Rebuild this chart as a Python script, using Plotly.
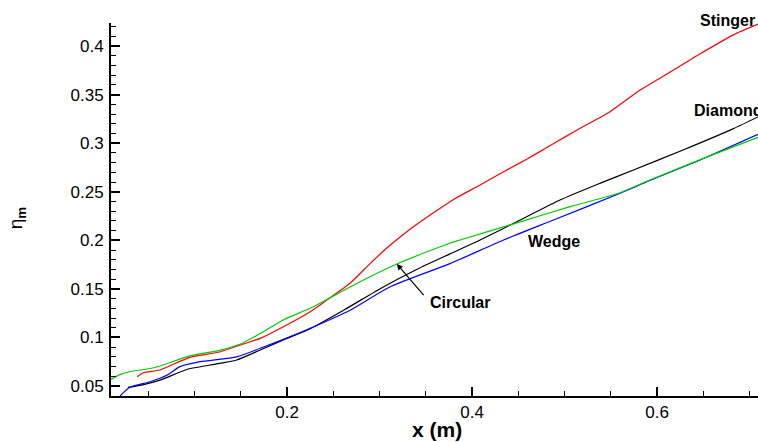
import plotly.graph_objects as go

# Stinger (red)
stinger_x = [0.038, 0.0447, 0.0627, 0.0808, 0.095, 0.128, 0.149, 0.171, 0.196, 0.225, 0.243, 0.268, 0.2897, 0.3078, 0.3294, 0.3546, 0.380, 0.4086, 0.4375, 0.459, 0.4808, 0.5024, 0.5168, 0.549, 0.5816, 0.612, 0.6465, 0.6825, 0.709]
stinger_y = [0.0596, 0.0637, 0.0665, 0.074, 0.0795, 0.0853, 0.092, 0.099, 0.111, 0.1265, 0.1385, 0.1557, 0.176, 0.192, 0.2089, 0.226, 0.2421, 0.2569, 0.2724, 0.2835, 0.2955, 0.3075, 0.3153, 0.3324, 0.3547, 0.372, 0.392, 0.4115, 0.4225]

# Diamond (black)
diamond_x = [0.028, 0.045, 0.0627, 0.0916, 0.1168, 0.1456, 0.171, 0.196, 0.225, 0.261, 0.304, 0.340, 0.376, 0.4086, 0.452, 0.495, 0.538, 0.5744, 0.628, 0.6825, 0.709]
diamond_y = [0.0485, 0.0515, 0.056, 0.067, 0.0716, 0.0768, 0.087, 0.0974, 0.109, 0.128, 0.152, 0.170, 0.186, 0.2003, 0.2209, 0.2415, 0.2586, 0.2724, 0.293, 0.315, 0.327]

# Wedge (blue)
wedge_x = [0.0195, 0.030, 0.052, 0.070, 0.0843, 0.106, 0.1456, 0.171, 0.196, 0.225, 0.268, 0.311, 0.376, 0.434, 0.488, 0.56, 0.592, 0.6465, 0.709]
wedge_y = [0.0397, 0.0487, 0.0544, 0.061, 0.0699, 0.075, 0.080, 0.0888, 0.098, 0.1094, 0.128, 0.152, 0.176, 0.2003, 0.2209, 0.2484, 0.2615, 0.2826, 0.309]

# Circular (green)
circular_x = [0.0097, 0.02, 0.030, 0.052, 0.0627, 0.095, 0.128, 0.149, 0.171, 0.196, 0.225, 0.243, 0.268, 0.3186, 0.347, 0.376, 0.387, 0.452, 0.506, 0.56, 0.592, 0.6465, 0.709]
circular_y = [0.057, 0.062, 0.0647, 0.068, 0.0706, 0.081, 0.087, 0.093, 0.104, 0.118, 0.130, 0.139, 0.152, 0.1756, 0.1866, 0.197, 0.2003, 0.219, 0.2346, 0.249, 0.262, 0.283, 0.306]

series = [
    ("Stinger", stinger_x, stinger_y, "#ff0000"),
    ("Diamond", diamond_x, diamond_y, "#000000"),
    ("Wedge", wedge_x, wedge_y, "#0000ff"),
    ("Circular", circular_x, circular_y, "#00cc00"),
]

FONT = "Liberation Sans, Arial, sans-serif"

fig = go.Figure()
for name, xs, ys, col in series:
    fig.add_trace(go.Scatter(x=xs, y=ys, mode="lines", name=name, cliponaxis=True,
                             line=dict(color=col, width=1.2, shape="spline", smoothing=0.6)))

label_font = dict(family=FONT, size=16, color="black")
# (text, x data, y paper)
labels = [
    ("<b>Stinger</b>", 0.644, 1.008),
    ("<b>Diamond</b>", 0.6375, 0.765),
    ("<b>Wedge</b>", 0.4585, 0.413),
    ("<b>Circular</b>", 0.3524, 0.252),
]
for txt, lx, ly in labels:
    fig.add_annotation(x=lx, y=ly, xref="x", yref="paper", text=txt, showarrow=False,
                       xanchor="left", yanchor="middle", font=label_font)

fig.add_annotation(x=0.3186, y=0.1756, ax=0.349, ay=0.142, axref="x", ayref="y",
                   text="", showarrow=True, arrowhead=2, arrowsize=1, arrowwidth=1.2,
                   arrowcolor="black")

# axis titles
fig.add_annotation(x=0.3616, y=-0.0885, xref="x", yref="paper", text="<b>x (m)</b>",
                   showarrow=False, xanchor="center", yanchor="middle",
                   font=dict(family=FONT, size=21, color="black"))
fig.add_annotation(x=-0.145, y=0.477, xref="paper", yref="paper", text="η<sub><b>m</b></sub>",
                   showarrow=False, xanchor="center", yanchor="middle", textangle=-90,
                   font=dict(family=FONT, size=19, color="black"))

tick_font = dict(family=FONT, size=17, color="black")
fig.update_layout(
    width=758, height=442,
    margin=dict(l=111, r=0, t=23, b=46, autoexpand=False),
    plot_bgcolor="white", paper_bgcolor="white",
    showlegend=False,
    xaxis=dict(range=[0.0097, 0.709], dtick=0.2, tick0=0, ticks="inside", ticklen=9,
               tickwidth=1.5, tickcolor="black", showline=True, linecolor="black",
               linewidth=2, showgrid=False, zeroline=False, tickfont=tick_font,
               automargin=False,
               minor=dict(dtick=0.05, tick0=0, ticks="inside", ticklen=5, tickcolor="black", tickwidth=1)),
    yaxis=dict(range=[0.0397, 0.4237], dtick=0.05, tick0=0, ticks="inside", ticklen=9,
               tickwidth=1.5, tickcolor="black", showline=True, linecolor="black",
               linewidth=2, showgrid=False, zeroline=False, tickfont=tick_font,
               ticklabelstandoff=2, automargin=False,
               minor=dict(dtick=0.01, tick0=0, ticks="inside", ticklen=5, tickcolor="black", tickwidth=1)),
)

fig.write_html("out.html", config={"displayModeBar": False},
               post_script="document.body.style.margin='0';document.body.style.overflow='hidden';")
